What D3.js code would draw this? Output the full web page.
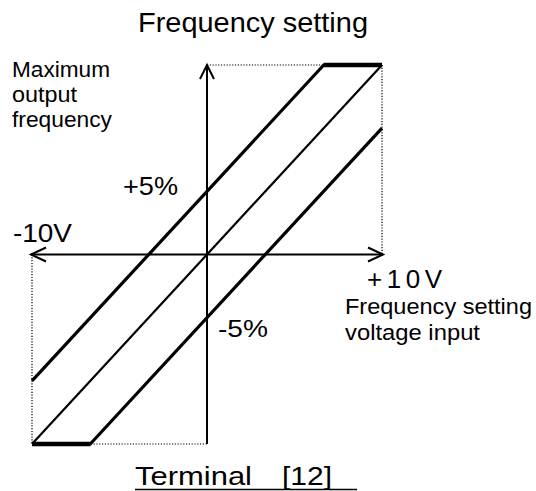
<!DOCTYPE html>
<html>
<head>
<meta charset="utf-8">
<script src="https://cdn.jsdelivr.net/npm/d3@7"></script>
<style>
  html, body { margin: 0; padding: 0; background: #fff; }
  svg { display: block; }
  text { font-family: "Liberation Sans", Arial, Helvetica, sans-serif; fill: #000; }
</style>
</head>
<body>
<svg id="chart" width="536" height="491"></svg>
<script>
// Input voltage (V) and output frequency (% of maximum) for each bias curve
const upperVolts = [-10, 6.67, 10];
const upperFreq  = [-66.7, 100, 100];
const midVolts   = [-10, 10];
const midFreq    = [-100, 100];
const lowerVolts = [-10, -6.67, 10];
const lowerFreq  = [-100, -100, 66.7];

// Axis extents
const voltDomain = [-10, 10];
const freqDomain = [-100, 100];

// Annotation texts
const titleText   = "Frequency setting";
const yLabelLines = ["Maximum", "output", "frequency"];
const xLabelLines = ["Frequency setting", "voltage input"];
const plusBias    = "+5%";
const minusBias   = "-5%";
const negVoltText = "-10V";
const posVoltText = "+10V";
const footerWord  = "Terminal";
const footerNum   = "[12]";

const svg = d3.select("#chart");

const x = d3.scaleLinear().domain(voltDomain).range([32, 382]);
const y = d3.scaleLinear().domain(freqDomain).range([444, 65]);

// Dotted frame marking the limits (top/right in quadrant I, left/bottom in quadrant III)
const dotted = svg.append("g")
  .attr("stroke", "#000").attr("stroke-width", 1.2)
  .attr("stroke-dasharray", "1.2,1.6").attr("fill", "none");
dotted.append("line").attr("x1", x(0)).attr("x2", x(10)).attr("y1", y(100)).attr("y2", y(100));
dotted.append("line").attr("x1", x(10)).attr("x2", x(10)).attr("y1", y(100)).attr("y2", y(0));
dotted.append("line").attr("x1", x(-10)).attr("x2", x(-10)).attr("y1", y(0)).attr("y2", y(-100));
dotted.append("line").attr("x1", x(-10)).attr("x2", x(0)).attr("y1", y(-100)).attr("y2", y(-100));

// Axes with open arrow heads
const axes = svg.append("g").attr("stroke", "#000").attr("stroke-width", 2).attr("fill", "none");
axes.append("line").attr("x1", x(-10) - 1).attr("x2", x(10) + 1).attr("y1", y(0)).attr("y2", y(0));
axes.append("line").attr("x1", x(0)).attr("x2", x(0)).attr("y1", y(100)).attr("y2", y(-100));
const arrow = (tx, ty, dx1, dy1, dx2, dy2) =>
  axes.append("path").attr("d", `M${tx + dx1},${ty + dy1}L${tx},${ty}L${tx + dx2},${ty + dy2}`);
arrow(x(0), y(100), -7, 14, 7, 14);
arrow(x(-10) - 1, y(0), 15, -7, 15, 7);
arrow(x(10) + 1, y(0), -15, -7, -15, 7);

// Characteristic lines
const line = d3.line().x(d => x(d[0])).y(d => y(d[1]));
const curves = [
  { v: upperVolts, f: upperFreq, w: 3.2 },
  { v: midVolts,   f: midFreq,   w: 2.2 },
  { v: lowerVolts, f: lowerFreq, w: 3.2 }
];
svg.append("g").selectAll("path").data(curves).join("path")
  .attr("d", c => line(d3.zip(c.v, c.f)))
  .attr("fill", "none").attr("stroke", "#000")
  .attr("stroke-width", c => c.w).attr("stroke-linejoin", "miter");

// Saturated (clamped) segments drawn heavier
const clamps = [
  [[upperVolts[1], upperFreq[1]], [upperVolts[2], upperFreq[2]]],
  [[lowerVolts[0], lowerFreq[0]], [lowerVolts[1], lowerFreq[1]]]
];
svg.append("g").selectAll("path").data(clamps).join("path")
  .attr("d", line).attr("fill", "none").attr("stroke", "#000").attr("stroke-width", 4.5);

// Text helper: fixed width per label so the wide lettering fits its slot
function label(t, px, py, size, len, adjust = "spacingAndGlyphs") {
  return svg.append("text").attr("x", px).attr("y", py).attr("font-size", size)
    .attr("textLength", len).attr("lengthAdjust", adjust).text(t);
}

label(titleText, 138, 32, 28, 230);

const yLens = [98, 65, 100];
yLabelLines.forEach((t, i) => label(t, 12, 77 + i * 25, 22.5, yLens[i]));

const xLens = [187, 135];
xLabelLines.forEach((t, i) => label(t, 345, 314 + i * 26, 22.5, xLens[i]));

label(plusBias, 123, 195, 25, 55);
label(minusBias, 218, 337, 24, 50);
label(negVoltText, 13, 242, 26, 59);
// Letter-spaced end-of-range label
label(posVoltText, 367, 288, 26, 75, "spacing").attr("font-weight", 500);

label(footerWord, 135, 485, 25.5, 117);
label(footerNum, 282, 485, 25.5, 50);
svg.append("line").attr("x1", 135).attr("x2", 357).attr("y1", 489.5).attr("y2", 489.5)
  .attr("stroke", "#000").attr("stroke-width", 1.5);
</script>
</body>
</html>
